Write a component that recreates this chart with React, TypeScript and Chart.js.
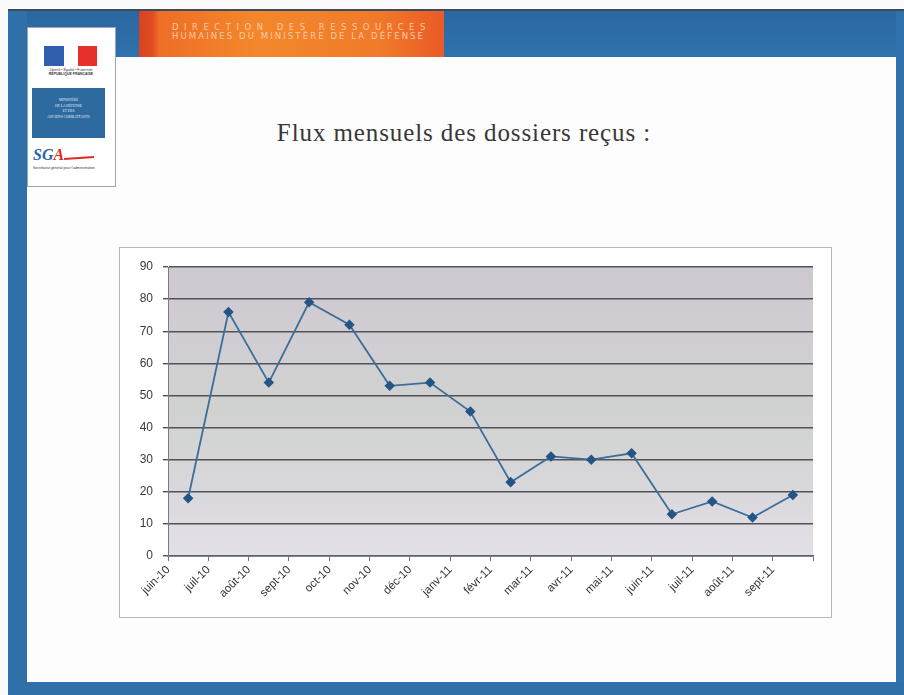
import React, { useEffect, useRef } from "react";
import { Chart, registerables } from "chart.js";

Chart.register(...registerables);

const months = [
  "juin-10", "juil-10", "août-10", "sept-10", "oct-10", "nov-10", "déc-10", "janv-11",
  "févr-11", "mar-11", "avr-11", "mai-11", "juin-11", "juil-11", "août-11", "sept-11",
];
const dossiers = [18, 76, 54, 79, 72, 53, 54, 45, 23, 31, 30, 32, 13, 17, 12, 19];
const yMin = 0;
const yMax = 90;
const yStep = 10;

const title = "Flux mensuels des dossiers reçus :";
const headerLine1 = "DIRECTION DES RESSOURCES";
const headerLine2 = "HUMAINES DU MINISTÈRE DE LA DÉFENSE";

const plotBg = {
  id: "plotBg",
  beforeDraw(chart: any) {
    const { ctx, chartArea } = chart;
    if (!chartArea) return;
    const { left, top, right, bottom } = chartArea;
    const g = ctx.createLinearGradient(0, top, 0, bottom);
    g.addColorStop(0, "#cec8d0");
    g.addColorStop(0.25, "#d1ced3");
    g.addColorStop(0.5, "#d0d2d0");
    g.addColorStop(0.75, "#d8d7da");
    g.addColorStop(1, "#e4e0e8");
    ctx.save();
    ctx.fillStyle = g;
    ctx.fillRect(left, top, right - left, bottom - top);
    ctx.restore();
  },
};

function LineChart() {
  const ref = useRef<HTMLCanvasElement | null>(null);
  useEffect(() => {
    if (!ref.current) return;
    const chart = new Chart(ref.current, {
      type: "line",
      data: {
        labels: months,
        datasets: [
          {
            data: dossiers,
            borderColor: "#3b6e9b",
            borderWidth: 1.8,
            pointStyle: "rectRot",
            pointRadius: 4,
            pointBackgroundColor: "#245585",
            pointBorderColor: "#245585",
            tension: 0,
          },
        ],
      },
      options: {
        animation: false,
        responsive: false,
        maintainAspectRatio: false,
        layout: { padding: { left: 0, top: 19, right: 18, bottom: 0 } },
        plugins: { legend: { display: false }, tooltip: { enabled: false } },
        scales: {
          x: {
            type: "category",
            offset: true,
            grid: {
              offset: true,
              drawOnChartArea: false,
              drawTicks: true,
              tickLength: 5,
              color: "#707580",
            },
            border: { display: true, color: "#5c6272", width: 1.5 },
            ticks: {
              autoSkip: false,
              minRotation: 45,
              maxRotation: 45,
              labelOffset: -20,
              padding: 2,
              color: "#333",
              font: { family: "Liberation Sans", size: 11.5 },
            },
            afterFit(scale: any) {
              scale.height = 61;
              scale.paddingLeft = 0;
              scale.paddingRight = 0;
            },
          },
          y: {
            min: yMin,
            max: yMax,
            ticks: {
              stepSize: yStep,
              padding: 10,
              color: "#3a3a3a",
              font: { family: "Liberation Sans", size: 12 },
            },
            grid: {
              color: "#525256",
              lineWidth: 1.4,
              tickLength: 5,
              drawTicks: true,
            },
            border: { display: true, color: "#7a7a80", width: 1 },
            afterFit(scale: any) {
              scale.width = 48;
              scale.paddingTop = 0;
              scale.paddingBottom = 0;
            },
          },
        },
      },
      plugins: [plotBg],
    } as any);
    return () => chart.destroy();
  }, []);
  return <canvas ref={ref} width={711} height={369} style={{ display: "block" }} />;
}

export default function App() {
  const abs = (s: React.CSSProperties): React.CSSProperties => ({ position: "absolute", ...s });
  return (
    <div style={abs({ left: 0, top: 0, width: 904, height: 695, background: "#fbfbfb", overflow: "hidden" })}>
      {/* top dark line */}
      <div style={abs({ left: 8, top: 9, width: 896, height: 2, background: "#3c4a5a" })} />
      {/* top blue band */}
      <div style={abs({ left: 8, top: 11, width: 896, height: 46, background: "linear-gradient(#2a67a0, #2f72ad)" })} />
      {/* left blue column */}
      <div style={abs({ left: 8, top: 11, width: 19, height: 684, background: "#2f70a8" })} />
      {/* right blue column */}
      <div style={abs({ left: 896, top: 11, width: 8, height: 684, background: "#2f72ad" })} />
      {/* bottom blue band */}
      <div style={abs({ left: 8, top: 682, width: 896, height: 13, background: "#2f70a8" })} />
      {/* white content area */}
      <div style={abs({ left: 27, top: 57, width: 869, height: 625, background: "#fdfdfd" })} />
      {/* orange header block */}
      <div
        style={abs({
          left: 139,
          top: 11,
          width: 305,
          height: 46,
          background: "linear-gradient(90deg, #d9411f 0px, #e24e22 14px, #ee6e26 20px, #f3882b 120px, #f07a2a 240px, #ea5a26 305px)",
        })}
      />
      <div
        style={abs({
          left: 172,
          top: 23,
          fontFamily: "DejaVu Sans",
          fontSize: 8.5,
          lineHeight: "8.5px",
          color: "#ffc8a2",
          whiteSpace: "nowrap",
        })}
      >
        <div style={{ letterSpacing: 5.5 }}>{headerLine1}</div>
        <div style={{ letterSpacing: 2.1 }}>{headerLine2}</div>
      </div>
      {/* logo box */}
      <div style={abs({ left: 27, top: 27, width: 87, height: 158, background: "#ffffff", border: "1px solid #9aa6b2" })} />
      <div style={abs({ left: 44, top: 46, width: 20, height: 20, background: "#2f5fae" })} />
      <div style={abs({ left: 64, top: 46, width: 14, height: 20, background: "#ffffff" })} />
      <div style={abs({ left: 78, top: 46, width: 19, height: 20, background: "#e8302a" })} />
      <div style={abs({ left: 42, top: 68, width: 58, fontSize: 3.5, lineHeight: "4px", fontFamily: "Liberation Sans", color: "#333", textAlign: "center" })}>
        Liberté • Égalité • Fraternité
        <br />
        <b>RÉPUBLIQUE FRANÇAISE</b>
      </div>
      <div
        style={abs({
          left: 32,
          top: 88,
          width: 73,
          height: 50,
          background: "#2c6aa0",
          color: "#e8eef6",
          fontFamily: "Liberation Serif",
          fontSize: 3.6,
          lineHeight: "5.5px",
          textAlign: "center",
          paddingTop: 10,
          boxSizing: "border-box",
        })}
      >
        MINISTÈRE
        <br />
        DE LA DÉFENSE
        <br />
        ET DES
        <br />
        ANCIENS COMBATTANTS
      </div>
      <div
        style={abs({
          left: 33,
          top: 147,
          fontFamily: "Liberation Serif",
          fontStyle: "italic",
          fontWeight: "bold",
          fontSize: 16,
          color: "#2a64b0",
          lineHeight: "16px",
        })}
      >
        SG<span style={{ color: "#e02a20" }}>A</span>
      </div>
      <div style={abs({ left: 64, top: 157, width: 30, height: 2, background: "#e02a20", transform: "rotate(-4deg)" })} />
      <div style={abs({ left: 33, top: 166, fontSize: 3.5, fontFamily: "Liberation Sans", color: "#333", whiteSpace: "nowrap" })}>
        Secrétariat général pour l'administration
      </div>
      {/* title */}
      <div
        style={abs({
          left: 164,
          top: 119,
          width: 600,
          textAlign: "center",
          fontFamily: "Liberation Serif",
          fontSize: 25,
          letterSpacing: 0.9,
          lineHeight: "28px",
          color: "#383838",
          whiteSpace: "nowrap",
        })}
      >
        {title}
      </div>
      {/* chart box */}
      <div style={abs({ left: 119, top: 247, width: 711, height: 369, border: "1px solid #b4b8bc", background: "#ffffff" })}>
        <LineChart />
      </div>
    </div>
  );
}
